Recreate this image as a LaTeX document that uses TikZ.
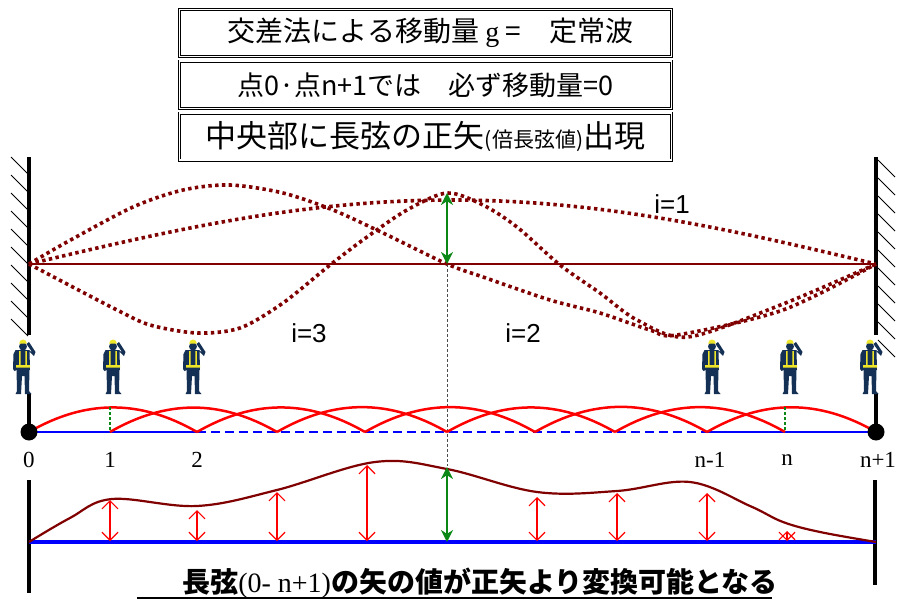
\documentclass[tikz,border=0pt]{standalone}
\usepackage{fontspec}
\setmainfont{Liberation Serif}
\newfontfamily\jpfont{Noto Sans CJK JP}
\newfontfamily\arialfont{Liberation Sans}
\usetikzlibrary{arrows.meta,positioning}

\definecolor{wavered}{RGB}{128,0,0}
\definecolor{mvgreen}{RGB}{10,135,20}
\definecolor{navy}{RGB}{20,48,84}
\definecolor{vest}{RGB}{238,228,40}

\tikzset{
  titlebox/.style={draw, double, double distance=1.8pt, line width=0.9pt,
    minimum width=492pt, minimum height=47pt, inner sep=0pt, font=\jpfont},
  wave/.style={wavered, line width=3.6pt, dash pattern=on 3.4pt off 3.4pt},
  wall/.style={line width=4.5pt},
  hatch/.style={line width=1pt},
  chordarc/.style={red, line width=2.5pt},
  versarrow/.style={red, line width=1.2pt,
    {Straight Barb[length=8pt,width=16pt]}-{Straight Barb[length=8pt,width=16pt]}},
  midarrow/.style={mvgreen, line width=2pt,
    {Stealth[length=12pt,width=12pt]}-{Stealth[length=12pt,width=12pt]}},
  ptlabel/.style={font=\fontsize{23}{23}\selectfont},
  ilabel/.style={font=\arialfont\fontsize{26}{26}\selectfont},
  worker/.pic={
    % legs
    \fill[navy] (-6.5,31) -- (6.5,31) -- (6,53) -- (8.5,56) -- (2,56) -- (1.5,38)
      -- (-1,38) -- (-2,56) -- (-7.5,56) -- (-6,53) -- cycle;
    % torso and hanging arm
    \fill[navy] (-7.5,12) -- (6.5,12) -- (7,32) -- (-6.5,32) -- (-8.5,33) -- (-10,31)
      -- (-9.5,16) -- cycle;
    % arm up to the ear
    \fill[navy] (5,12) -- (11,18) -- (12.5,14) -- (6,4) -- (3.5,6) -- (9,14) -- cycle;
    % head and helmet
    \fill[navy] (0,8.5) circle (4);
    \fill[vest] (-3.8,5.5) arc (180:360:3.8 and 4) -- cycle;
    % vest
    \fill[vest] (-3.8,13) rectangle (-2.3,28) (2.3,13) rectangle (3.8,28)
      (-7,27) rectangle (7,29.5);
  }
}

\begin{document}
\begin{tikzpicture}[x=1pt,y=-1pt]
\path[use as bounding box, fill=white] (0,0) rectangle (900,602);

% title boxes
\node[titlebox] (law) at (425.5,33)
  {\fontsize{28}{28}\selectfont\hspace{10pt}交差法による移動量 {\rmfamily g} =\quad 定常波};
\node[titlebox, below=4pt of law] (ends)
  {\fontsize{27}{27}\selectfont 点0·点n+1では\quad 必ず移動量=0};
\node[titlebox, below=4pt of ends] (chord)
  {\fontsize{31}{31}\selectfont 中央部に長弦の正矢{\fontsize{21}{21}\selectfont (倍長弦値)}出現};

% walls
\draw[wall] (29,157) -- (29,335) (29,393) -- (29,432);
\draw[wall] (876,157) -- (876,335) (876,393) -- (876,432);
\draw[wall] (29,480) -- (29,593);
\draw[wall] (875,480) -- (875,585);
\foreach \y in {157,175,...,320}
  \draw[hatch] (11,\y) -- (28,\y+17);
\foreach \y in {160,178,...,342}
  \draw[hatch] (878,\y) -- (895,\y+17);

% centre line
\coordinate (mtop) at (447,264);
\coordinate (mbot) at (447,466);
\draw[gray!60!black, line width=0.6pt, dash pattern=on 3pt off 2pt] (mtop) -- (mbot);

% string at rest
\coordinate (s0) at (29,264);
\coordinate (s1) at (876,264);
\draw[wavered, line width=2.2pt] (s0) -- (s1);

% standing waves
\draw[wave] plot[domain=0:1, samples=70] ({29+847*\x},{264-64*sin(180*\x)});
\draw[wave] plot[smooth] coordinates {(29,264) (67,242) (133,207) (183,190) (230,185)
  (283,193) (333,210) (383,233) (447,264) (483,277) (550,300) (600,313) (650,330)
  (677,335) (783,310) (876,264)};
\draw[wave] plot[smooth] coordinates {(29,264) (67,284) (117,310) (150,325) (197,333)
  (240,328) (283,303) (330,265) (367,237) (407,210) (447,193) (483,205) (517,227)
  (560,265) (600,293) (637,320) (688,337) (783,304) (876,264)};

\coordinate (wtop) at (447,193);
\draw[midarrow] (wtop) -- (mtop);

\node[ilabel] (i1) at (672,204) {i=1};
\node[ilabel] (i3) at (309,333) {i=3};
\node[ilabel] (i2) at (523,333) {i=2};

% surveyors
\foreach \x in {23,113,193,712,790,870}
  \pic at (\x,338) {worker};

% chord points
\foreach \k/\x in {0/29,1/110,2/197,3/277,4/365,5/447,6/535,7/615,8/707,9/785,10/876}
  \coordinate (p\k) at (\x,432);

\draw[blue, line width=2.8pt] (p0) -- (p2);
\draw[blue, line width=2.2pt, dash pattern=on 9pt off 5pt] (p2) -- (p8);
\draw[blue, line width=2.8pt] (p8) -- (p10);

\foreach \k [evaluate=\k as \j using int(\k+2)] in {0,...,8}
  \draw[chordarc] (p\k) to[bend left=30] (p\j);

\coordinate (v1) at (110,407);
\coordinate (v9) at (785,407);
\draw[mvgreen, line width=1.2pt, dash pattern=on 3pt off 2pt] (v1) -- (p1);
\draw[mvgreen, line width=1.2pt, dash pattern=on 3pt off 2pt] (v9) -- (p9);

\node[circle, fill, inner sep=0pt, minimum size=17pt] (d0) at (p0) {};
\node[circle, fill, inner sep=0pt, minimum size=17pt] (d10) at (p10) {};

\foreach \k/\x/\t in {0/29/0, 1/110/1, 2/197/2, 8/710/n-1, 9/787/n, 10/878/n+1}
  \node[ptlabel] (l\k) at (\x,460) {\t};

% versines along the long chord
\coordinate (b0) at (29,542);
\coordinate (b1) at (876,542);
\draw[blue, line width=4pt] (b0) -- (b1);
\draw[wavered, line width=2.2pt] plot[smooth, tension=0.6] coordinates {(29,542)
  (70,518) (112,499) (197,506) (277,490) (375,462) (447,469) (537,492) (617,491)
  (690,482) (750,506) (783,522) (820,532) (876,542)};

\foreach \x/\t in {110/500, 197/510, 277/492, 367/465, 537/497, 617/493, 707/493, 787/531}{
  \coordinate (top\x) at (\x,\t);
  \coordinate (bot\x) at (\x,541);
  \draw[versarrow] (top\x) -- (bot\x);
}
\coordinate (gtop) at (447,467);
\coordinate (gbot) at (447,542);
\draw[midarrow] (gtop) -- (gbot);

% conclusion
\node[font=\jpfont\bfseries\fontsize{28}{28}\selectfont] (note) at (480,583)
  {長弦{\rmfamily\mdseries (0- n+1)}の矢の値が正矢より変換可能となる};
\coordinate (u0) at (137,598);
\coordinate (u1) at (772,598);
\draw[line width=1.8pt] (u0) -- (u1);

\end{tikzpicture}
\end{document}
